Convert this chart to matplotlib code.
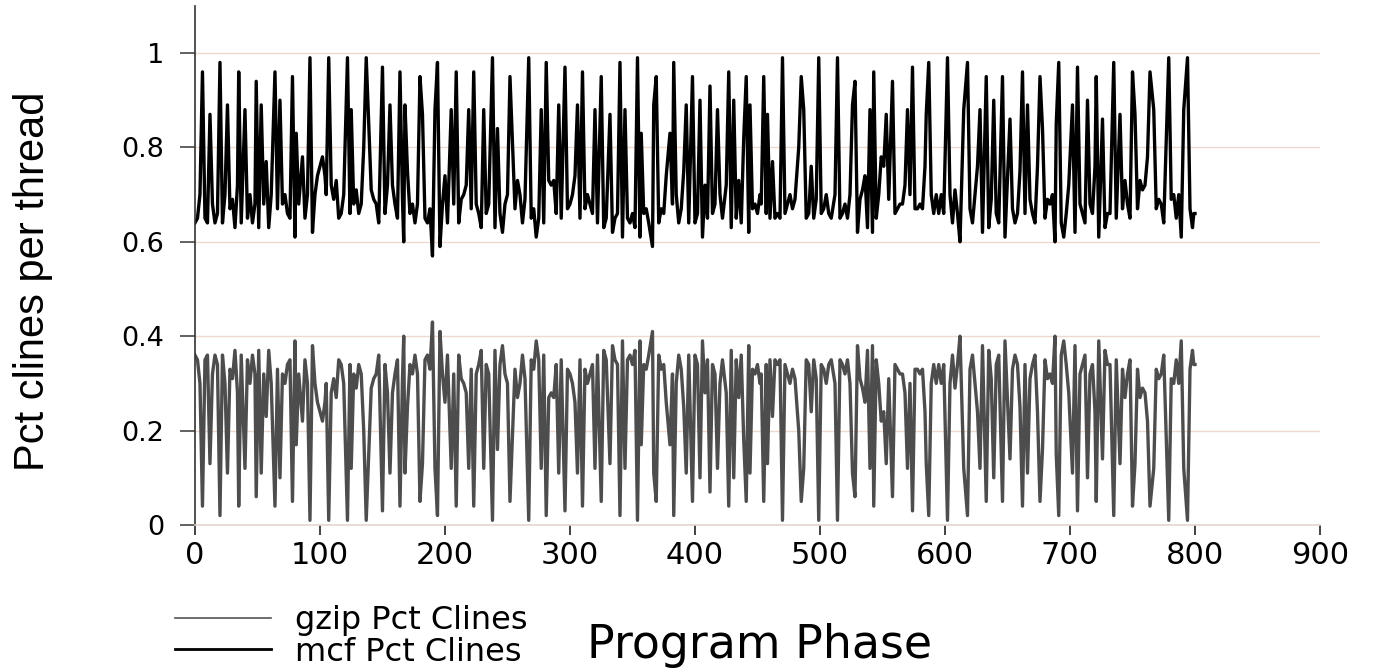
import matplotlib.pyplot as plt
from matplotlib.lines import Line2D

# program phase of each sample
phase = [
    0, 2, 4, 6, 8, 10, 12, 14, 16, 18,
    20, 22, 24, 26, 28, 30, 32, 34, 35, 37,
    40, 42, 44, 46, 48, 49, 51, 53, 55, 57,
    59, 61, 64, 66, 68, 70, 72, 74, 76, 78,
    80, 81, 83, 86, 88, 90, 92, 94, 96, 98,
    100, 102, 104, 105, 107, 109, 111, 113, 115, 117,
    119, 122, 124, 125, 127, 129, 131, 133, 135, 137,
    139, 141, 143, 145, 147, 150, 152, 154, 156, 158,
    160, 162, 164, 166, 167, 168, 170, 172, 174, 176,
    178, 180, 182, 184, 186, 188, 190, 192, 194, 196,
    198, 200, 202, 205, 207, 209, 211, 213, 215, 217,
    219, 221, 223, 225, 227, 229, 231, 233, 235, 238,
    240, 242, 244, 246, 248, 250, 252, 254, 256, 258,
    260, 262, 264, 267, 269, 271,
    273, 275, 277, 279, 281, 283, 285, 287, 289, 291,
    293, 296, 298, 300, 302, 304, 306, 308, 310, 312,
    314, 316, 318, 320, 322, 325, 327, 329, 332, 334,
    336, 338, 340, 342, 344, 346, 348, 350, 352, 354,
    356, 357, 359, 361, 363, 366, 367, 369, 371, 373,
    375, 377, 380, 382, 383, 385, 387, 389, 391, 393,
    395, 398, 400, 402, 404, 406, 408,
    410, 412, 414, 416, 418, 420, 422, 425, 427, 429,
    431, 433, 435, 437, 439, 441, 443, 444, 446, 448,
    450, 452, 453, 455, 457, 458, 460, 462, 464, 466,
    468, 470, 472, 474, 476, 478, 480, 483, 485, 487,
    489, 491, 493, 495, 497, 499, 501, 503, 505, 507,
    509, 512, 514, 516, 518, 520, 522, 524, 526, 528,
    530, 532, 534, 536, 538, 540,
    542, 543, 545, 547, 549, 551, 553, 555, 558, 560,
    562, 564, 566, 568, 570, 572, 574, 576, 578, 580,
    582, 584, 585, 587, 589, 591, 593, 595, 597, 599,
    602, 604, 606, 608, 610, 612, 615, 618, 620, 622,
    624, 626, 628, 630, 633, 635, 637, 639, 641, 643,
    646, 648, 652, 654, 656, 658, 660, 662, 664, 666,
    668, 670, 672, 674, 676, 678,
    680, 682, 684, 686, 688, 689, 691, 693, 695, 697,
    699, 702, 704, 706, 708, 710, 712, 714, 716, 718,
    720, 721, 723, 726, 728, 730, 732, 735, 737, 740,
    742, 744, 746, 748, 750, 752, 754, 756, 758, 760,
    762, 764, 767, 769, 771, 773, 775, 779, 781, 783,
    785, 787, 789, 791, 794, 796, 798, 799, 800,
]

mcf_pct = [
    0.64, 0.65, 0.70, 0.96, 0.65, 0.64, 0.87, 0.68, 0.64, 0.66,
    0.98, 0.64, 0.70, 0.89, 0.67, 0.69, 0.63, 0.72, 0.96, 0.64,
    0.88, 0.65, 0.70, 0.64, 0.68, 0.94, 0.63, 0.89, 0.68, 0.77,
    0.63, 0.70, 0.96, 0.67, 0.90, 0.68, 0.70, 0.66, 0.65, 0.95,
    0.61, 0.83, 0.68, 0.78, 0.65, 0.70, 0.99, 0.62, 0.70, 0.74,
    0.76, 0.78, 0.74, 0.70, 0.99, 0.72, 0.69, 0.73, 0.65, 0.66,
    0.70, 0.99, 0.66, 0.88, 0.68, 0.71, 0.66, 0.68, 0.80, 0.99,
    0.85, 0.71, 0.69, 0.68, 0.64, 0.97, 0.66, 0.72, 0.89, 0.72,
    0.68, 0.65, 0.96, 0.69, 0.60, 0.89, 0.75, 0.66, 0.68, 0.64,
    0.68, 0.95, 0.87, 0.65, 0.64, 0.67, 0.57, 0.88, 0.98, 0.59,
    0.68, 0.74, 0.64, 0.88, 0.68, 0.96, 0.64, 0.69, 0.70, 0.72,
    0.88, 0.67, 0.96, 0.68, 0.66, 0.63, 0.88, 0.66, 0.68, 0.99,
    0.63, 0.84, 0.66, 0.62, 0.68, 0.70, 0.95, 0.81, 0.67, 0.73,
    0.70, 0.64, 0.69, 0.99, 0.65, 0.67,
    0.61, 0.65, 0.88, 0.64, 0.98, 0.73, 0.72, 0.73, 0.66, 0.89,
    0.65, 0.97, 0.67, 0.68, 0.70, 0.74, 0.89, 0.65, 0.96, 0.67,
    0.70, 0.68, 0.66, 0.88, 0.64, 0.95, 0.63, 0.65, 0.87, 0.62,
    0.65, 0.66, 0.98, 0.61, 0.88, 0.65, 0.64, 0.66, 0.63, 0.99,
    0.61, 0.83, 0.66, 0.67, 0.64, 0.59, 0.89, 0.95, 0.64, 0.67,
    0.66, 0.74, 0.83, 0.68, 0.98, 0.70, 0.64, 0.67, 0.75, 0.89,
    0.64, 0.95, 0.64, 0.66, 0.90, 0.61, 0.72,
    0.65, 0.93, 0.66, 0.68, 0.88, 0.70, 0.65, 0.72, 0.96, 0.63,
    0.90, 0.65, 0.73, 0.64, 0.82, 0.95, 0.62, 0.89, 0.67, 0.68,
    0.66, 0.70, 0.68, 0.95, 0.66, 0.87, 0.65, 0.77, 0.65, 0.66,
    0.65, 0.99, 0.66, 0.68, 0.70, 0.67, 0.69, 0.80, 0.95, 0.88,
    0.65, 0.66, 0.76, 0.65, 0.69, 0.99, 0.66, 0.67, 0.70, 0.66,
    0.65, 0.70, 0.99, 0.65, 0.66, 0.68, 0.65, 0.70, 0.89, 0.94,
    0.62, 0.69, 0.71, 0.74, 0.63, 0.88,
    0.62, 0.96, 0.65, 0.70, 0.78, 0.76, 0.87, 0.69, 0.94, 0.66,
    0.67, 0.68, 0.68, 0.72, 0.88, 0.70, 0.97, 0.67, 0.67, 0.68,
    0.67, 0.76, 0.87, 0.98, 0.70, 0.66, 0.70, 0.66, 0.70, 0.66,
    0.99, 0.70, 0.64, 0.71, 0.66, 0.60, 0.88, 0.98, 0.67, 0.64,
    0.70, 0.76, 0.88, 0.62, 0.95, 0.63, 0.69, 0.90, 0.66, 0.64,
    0.95, 0.61, 0.86, 0.67, 0.64, 0.66, 0.75, 0.96, 0.66, 0.89,
    0.69, 0.66, 0.64, 0.76, 0.95, 0.84,
    0.65, 0.69, 0.68, 0.70, 0.60, 0.85, 0.98, 0.64, 0.61, 0.66,
    0.72, 0.89, 0.62, 0.97, 0.68, 0.66, 0.64, 0.90, 0.68, 0.66,
    0.76, 0.95, 0.61, 0.86, 0.63, 0.66, 0.66, 0.98, 0.65, 0.87,
    0.67, 0.73, 0.68, 0.65, 0.96, 0.87, 0.67, 0.73, 0.71, 0.72,
    0.78, 0.96, 0.88, 0.67, 0.69, 0.68, 0.64, 0.99, 0.69, 0.70,
    0.65, 0.70, 0.61, 0.88, 0.99, 0.67, 0.63, 0.66, 0.66,
]

gzip_pct = [
    0.36, 0.35, 0.30, 0.04, 0.35, 0.36, 0.13, 0.32, 0.36, 0.34,
    0.02, 0.36, 0.30, 0.11, 0.33, 0.31, 0.37, 0.28, 0.04, 0.36,
    0.12, 0.35, 0.30, 0.36, 0.32, 0.06, 0.37, 0.11, 0.32, 0.23,
    0.37, 0.30, 0.04, 0.33, 0.10, 0.32, 0.30, 0.34, 0.35, 0.05,
    0.39, 0.17, 0.32, 0.22, 0.35, 0.30, 0.01, 0.38, 0.30, 0.26,
    0.24, 0.22, 0.26, 0.30, 0.01, 0.28, 0.31, 0.27, 0.35, 0.34,
    0.30, 0.01, 0.34, 0.12, 0.32, 0.29, 0.34, 0.32, 0.20, 0.01,
    0.15, 0.29, 0.31, 0.32, 0.36, 0.03, 0.34, 0.28, 0.11, 0.28,
    0.32, 0.35, 0.04, 0.31, 0.40, 0.11, 0.25, 0.34, 0.32, 0.36,
    0.32, 0.05, 0.13, 0.35, 0.36, 0.33, 0.43, 0.12, 0.02, 0.41,
    0.32, 0.26, 0.36, 0.12, 0.32, 0.04, 0.36, 0.31, 0.30, 0.28,
    0.12, 0.33, 0.04, 0.32, 0.34, 0.37, 0.12, 0.34, 0.32, 0.01,
    0.37, 0.16, 0.34, 0.38, 0.32, 0.30, 0.05, 0.19, 0.33, 0.27,
    0.30, 0.36, 0.31, 0.01, 0.35, 0.33,
    0.39, 0.35, 0.12, 0.36, 0.02, 0.27, 0.28, 0.27, 0.34, 0.11,
    0.35, 0.03, 0.33, 0.32, 0.30, 0.26, 0.11, 0.35, 0.04, 0.33,
    0.30, 0.32, 0.34, 0.12, 0.36, 0.05, 0.37, 0.35, 0.13, 0.38,
    0.35, 0.34, 0.02, 0.39, 0.12, 0.35, 0.36, 0.34, 0.37, 0.01,
    0.39, 0.17, 0.34, 0.33, 0.36, 0.41, 0.11, 0.05, 0.36, 0.33,
    0.34, 0.26, 0.17, 0.32, 0.02, 0.30, 0.36, 0.33, 0.25, 0.11,
    0.36, 0.05, 0.36, 0.34, 0.10, 0.39, 0.28,
    0.35, 0.07, 0.34, 0.32, 0.12, 0.30, 0.35, 0.28, 0.04, 0.37,
    0.10, 0.35, 0.27, 0.36, 0.18, 0.05, 0.38, 0.11, 0.33, 0.32,
    0.34, 0.30, 0.32, 0.05, 0.34, 0.13, 0.35, 0.23, 0.35, 0.34,
    0.35, 0.01, 0.34, 0.32, 0.30, 0.33, 0.31, 0.20, 0.05, 0.12,
    0.35, 0.34, 0.24, 0.35, 0.31, 0.01, 0.34, 0.33, 0.30, 0.34,
    0.35, 0.30, 0.01, 0.35, 0.34, 0.32, 0.35, 0.30, 0.11, 0.06,
    0.38, 0.31, 0.29, 0.26, 0.37, 0.12,
    0.38, 0.04, 0.35, 0.30, 0.22, 0.24, 0.13, 0.31, 0.06, 0.34,
    0.33, 0.32, 0.32, 0.28, 0.12, 0.30, 0.03, 0.33, 0.33, 0.32,
    0.33, 0.24, 0.13, 0.02, 0.30, 0.34, 0.30, 0.34, 0.30, 0.34,
    0.01, 0.30, 0.36, 0.29, 0.34, 0.40, 0.12, 0.02, 0.33, 0.36,
    0.30, 0.24, 0.12, 0.38, 0.05, 0.37, 0.31, 0.10, 0.34, 0.36,
    0.05, 0.39, 0.14, 0.33, 0.36, 0.34, 0.25, 0.04, 0.34, 0.11,
    0.31, 0.34, 0.36, 0.24, 0.05, 0.16,
    0.35, 0.31, 0.32, 0.30, 0.40, 0.15, 0.02, 0.36, 0.39, 0.34,
    0.28, 0.11, 0.38, 0.03, 0.32, 0.34, 0.36, 0.10, 0.32, 0.34,
    0.24, 0.05, 0.39, 0.14, 0.37, 0.34, 0.34, 0.02, 0.35, 0.13,
    0.33, 0.27, 0.32, 0.35, 0.04, 0.13, 0.33, 0.27, 0.29, 0.28,
    0.22, 0.04, 0.12, 0.33, 0.31, 0.32, 0.36, 0.01, 0.31, 0.30,
    0.35, 0.30, 0.39, 0.12, 0.01, 0.33, 0.37, 0.34, 0.34,
]

x_ticks = [0, 100, 200, 300, 400, 500, 600, 700, 800, 900]
y_ticks = [0, 0.2, 0.4, 0.6, 0.8, 1]
y_tick_labels = ["0", "0.2", "0.4", "0.6", "0.8", "1"]


def main():
    plt.rcParams['font.family'] = 'DejaVu Sans'
    fig = plt.figure(figsize=(13.73, 6.72), dpi=100)
    ax = fig.add_axes([0.142, 0.21875, 0.8194, 0.7726])

    ax.plot(phase, gzip_pct, color='#4d4d4d', lw=2.4)
    ax.plot(phase, mcf_pct, color='black', lw=2.4)

    ax.set_xlim(0, 900)
    ax.set_ylim(0, 1.1)
    ax.set_xticks(x_ticks)
    ax.set_yticks(y_ticks)
    ax.set_yticklabels(y_tick_labels)

    ax.yaxis.grid(True, color='#eed9cf', lw=1)
    ax.set_axisbelow(True)

    ax.spines['top'].set_visible(False)
    ax.spines['right'].set_visible(False)
    ax.spines['left'].set_color('#333333')
    ax.spines['left'].set_linewidth(1.2)
    ax.spines['bottom'].set_color('#e3d6ce')
    ax.spines['bottom'].set_linewidth(1.2)

    ax.tick_params(axis='y', length=11, width=1.3, color='#555555',
                   pad=11, labelsize=19.5)
    ax.tick_params(axis='x', length=7.5, width=1.3, color='#333333',
                   pad=4, labelsize=22)

    fig.text(33 / 1373, 1 - 281 / 672, 'Pct clines per thread', rotation=90,
             ha='center', va='center', fontsize=30, family='Liberation Sans')
    fig.text(760 / 1373, 1 - 646 / 672, 'Program Phase',
             ha='center', va='center', fontsize=33)

    handles = [Line2D([], [], color='#555555', lw=1.2),
               Line2D([], [], color='black', lw=2)]
    fig.legend(handles, ['gzip Pct Clines', 'mcf Pct Clines'],
               loc='upper left', bbox_to_anchor=(175 / 1373, 1 - 605 / 672),
               frameon=False, borderpad=0, borderaxespad=0,
               handlelength=3.0, handletextpad=0.75, labelspacing=0.02,
               fontsize=23)

    fig.savefig('out.png', dpi=100)


if __name__ == "__main__":
    main()
